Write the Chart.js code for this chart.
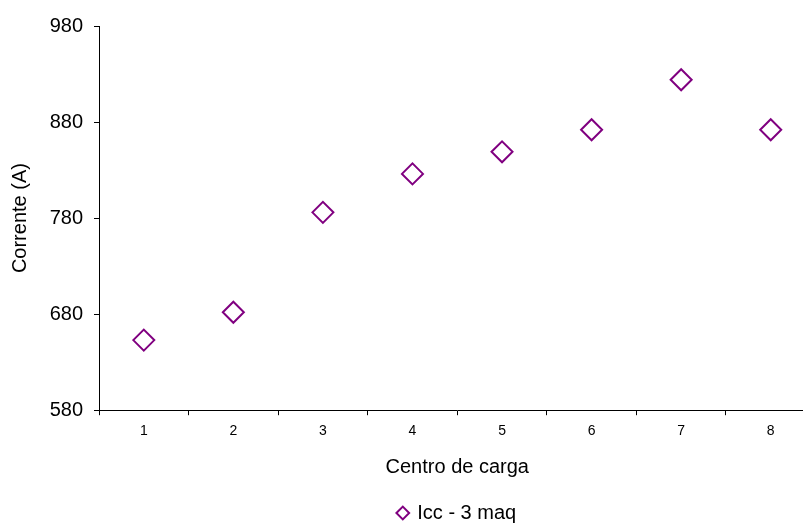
<!DOCTYPE html>
<html>
<head>
<meta charset="utf-8">
<script src="https://cdn.jsdelivr.net/npm/chart.js@4/dist/chart.umd.min.js"></script>
<style>
html, body { margin: 0; padding: 0; background: #fff; overflow: hidden; }
#caja { position: relative; width: 828px; height: 533px; }
</style>
</head>
<body>
<div id="caja"><canvas id="miGrafico"></canvas></div>
<script>
// valores
const centros = ['1', '2', '3', '4', '5', '6', '7', '8'];
const corrienteIcc = [653, 682, 786, 826, 849, 872, 924, 872];
const minY = 580;
const maxY = 980;
const pasoY = 100;

const fuente = "'Liberation Sans', Arial, sans-serif";
const morado = '#800080';

const ctx = document.getElementById('miGrafico').getContext('2d');

const miGrafico = new Chart(ctx, {
    type: 'line',
    data: {
        labels: centros,
        datasets: [{
            label: 'Icc - 3 maq',
            data: corrienteIcc,
            showLine: false,
            pointStyle: 'rectRot',
            pointRadius: 10.5,
            pointHoverRadius: 10.5,
            pointBorderWidth: 2,
            borderColor: morado,
            backgroundColor: 'rgba(255,255,255,0)'
        }]
    },
    options: {
        responsive: true,
        maintainAspectRatio: false,
        animation: false,
        layout: {
            padding: { top: 26, right: 5, bottom: 0, left: 0 }
        },
        plugins: {
            tooltip: { enabled: false },
            legend: {
                position: 'bottom',
                fullSize: false,
                labels: {
                    usePointStyle: true,
                    boxWidth: 9,
                    boxHeight: 9,
                    color: '#000',
                    padding: 10,
                    font: { family: fuente, size: 20 }
                }
            }
        },
        scales: {
            x: {
                offset: true,
                grid: {
                    offset: true,
                    drawOnChartArea: false,
                    drawTicks: true,
                    tickLength: 5,
                    color: '#000'
                },
                border: { display: true, color: '#000', width: 1 },
                ticks: {
                    color: '#000',
                    padding: 8,
                    font: { family: fuente, size: 14 }
                },
                title: {
                    display: true,
                    text: 'Centro de carga',
                    color: '#000',
                    padding: { top: 7, bottom: 14 },
                    font: { family: fuente, size: 20 }
                }
            },
            y: {
                min: minY,
                max: maxY,
                grid: {
                    drawOnChartArea: false,
                    drawTicks: true,
                    tickLength: 5,
                    color: '#000'
                },
                border: { display: true, color: '#000', width: 1 },
                ticks: {
                    stepSize: pasoY,
                    color: '#000',
                    padding: 11,
                    font: { family: fuente, size: 20 }
                },
                title: {
                    display: true,
                    text: 'Corrente (A)',
                    color: '#000',
                    padding: { top: 8, bottom: 0 },
                    font: { family: fuente, size: 20 }
                },
                afterFit: function (escala) {
                    escala.width = 99;
                }
            }
        }
    }
});
</script>
</body>
</html>
